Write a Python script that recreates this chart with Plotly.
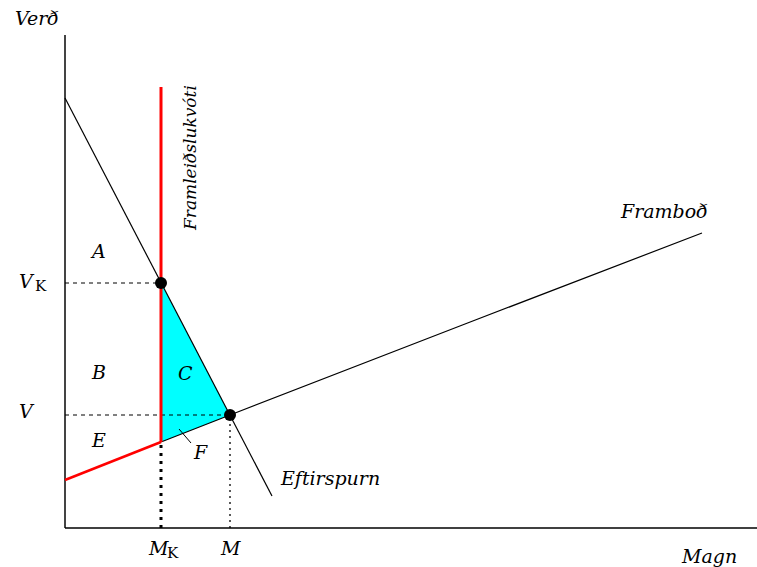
import plotly.graph_objects as go

# Schematic market with a production quota (units are arbitrary, origin at the axes corner)
demand_x = [0, 96, 165, 207]
demand_y = [430, 245, 113, 32]

supply_low_x = [0, 96]          # supply below the quota (red)
supply_low_y = [48, 86]
supply_high_x = [96, 165, 400, 637]
supply_high_y = [86, 113, 204, 295]

quota_x = 96                    # M_K
quota_top = 441
price_quota = 245               # V_K
eq_q = 165                      # M
eq_p = 113                      # V

area_labels = ["A", "B", "E", "C", "F"]
area_x = [33, 33, 33, 120, 135]
area_y = [277, 156, 88, 155, 76]

FONT = "DejaVu Serif"

fig = go.Figure()

# deadweight-loss triangle C+F
fig.add_trace(go.Scatter(
    x=[quota_x, eq_q, quota_x, quota_x],
    y=[price_quota, eq_p, supply_low_y[-1], price_quota],
    fill="toself", fillcolor="#00FFFF", mode="lines",
    line=dict(color="rgba(0,0,0,0)", width=0), hoverinfo="skip"))

# axes
fig.add_trace(go.Scatter(x=[0, 0], y=[0, 493], mode="lines",
                         line=dict(color="#444444", width=2), hoverinfo="skip"))
fig.add_trace(go.Scatter(x=[0, 692], y=[0, 0], mode="lines",
                         line=dict(color="black", width=1.5), hoverinfo="skip"))

# guide lines
fig.add_trace(go.Scatter(x=[0, quota_x], y=[price_quota, price_quota], mode="lines",
                         line=dict(color="black", width=1, dash="4px,4px"), hoverinfo="skip"))
fig.add_trace(go.Scatter(x=[0, eq_q], y=[eq_p, eq_p], mode="lines",
                         line=dict(color="black", width=1, dash="4px,4px"), hoverinfo="skip"))
fig.add_trace(go.Scatter(x=[quota_x, quota_x], y=[0, supply_low_y[-1]], mode="lines",
                         line=dict(color="black", width=3, dash="3px,5px"), hoverinfo="skip"))
fig.add_trace(go.Scatter(x=[eq_q, eq_q], y=[0, eq_p], mode="lines",
                         line=dict(color="black", width=1.3, dash="2px,4px"), hoverinfo="skip"))

# demand and supply curves
fig.add_trace(go.Scatter(x=demand_x, y=demand_y, mode="lines",
                         line=dict(color="black", width=1.2), hoverinfo="skip"))
fig.add_trace(go.Scatter(x=supply_high_x, y=supply_high_y, mode="lines",
                         line=dict(color="black", width=1.2), hoverinfo="skip"))
fig.add_trace(go.Scatter(x=supply_low_x, y=supply_low_y, mode="lines",
                         line=dict(color="#FF0000", width=2.5), hoverinfo="skip"))

# quota line
fig.add_trace(go.Scatter(x=[quota_x, quota_x], y=[supply_low_y[-1], quota_top], mode="lines",
                         line=dict(color="#FF0000", width=3), hoverinfo="skip"))

# pointer to area F
fig.add_trace(go.Scatter(x=[114, 126], y=[99, 85], mode="lines",
                         line=dict(color="black", width=1), hoverinfo="skip"))

# equilibrium points
fig.add_trace(go.Scatter(x=[quota_x, eq_q], y=[price_quota, eq_p], mode="markers",
                         marker=dict(color="black", size=12), hoverinfo="skip"))

def label(text, x, y, size=19, angle=0, italic=True, xanchor="center"):
    fig.add_annotation(x=x, y=y, text=text, showarrow=False, textangle=angle,
                       xanchor=xanchor,
                       font=dict(family=FONT, size=size, color="black",
                                 style="italic" if italic else "normal"))

for t, x, y in zip(area_labels, area_x, area_y):
    label(t, x, y)

label("Verð", -28, 510)
label("V", -38, 247)
label("K", -32, 242, size=15, italic=False, xanchor="left")
label("V", -38, 117)
label("M", 93, -20)
label("K", 100, -25, size=15, italic=False, xanchor="left")
label("M", eq_q, -20)
label("Magn", 644, -28)
label("Framboð", 599, 317)
label("Eftirspurn", 265, 50)
label("Framleiðslukvóti", 125, 370, size=17, angle=-90)

fig.update_layout(
    width=757, height=567,
    margin=dict(l=0, r=0, t=0, b=0),
    paper_bgcolor="white", plot_bgcolor="white",
    showlegend=False,
    xaxis=dict(range=[-65, 692], visible=False, fixedrange=True),
    yaxis=dict(range=[-39, 528], visible=False, fixedrange=True),
)

fig.write_html("out.html")
